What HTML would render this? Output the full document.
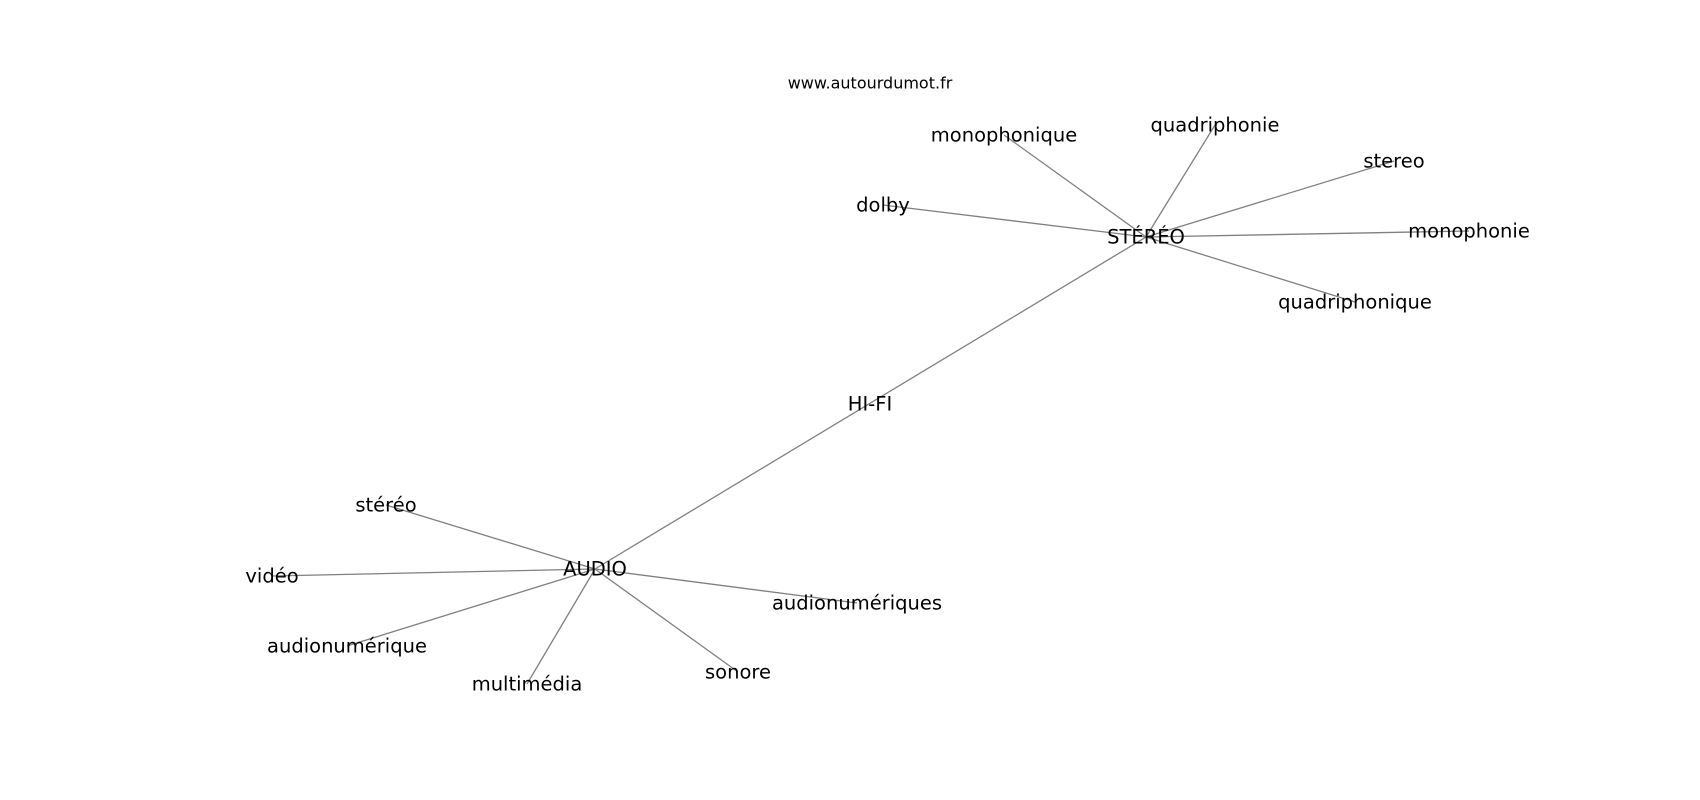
<!DOCTYPE html>
<html><head><meta charset="utf-8"><style>
html,body{margin:0;padding:0;background:#fff;}
svg{display:block;}
text{font-family:"DejaVu Sans","Liberation Sans",sans-serif;font-size:19.5px;fill:#000;text-anchor:middle;dominant-baseline:central;}
</style></head><body>
<svg width="1700" height="800" viewBox="0 0 1700 800">
<g stroke="#808080" stroke-width="1.3" fill="none">
<line x1="1146" y1="237" x2="1004" y2="135"/>
<line x1="1146" y1="237" x2="1215" y2="125"/>
<line x1="1146" y1="237" x2="1394" y2="161"/>
<line x1="1146" y1="237" x2="883" y2="205"/>
<line x1="1146" y1="237" x2="1469" y2="231"/>
<line x1="1146" y1="237" x2="1355" y2="302"/>
<line x1="1146" y1="237" x2="595" y2="569"/>
<line x1="595" y1="569" x2="386" y2="505"/>
<line x1="595" y1="569" x2="272" y2="576"/>
<line x1="595" y1="569" x2="347" y2="646"/>
<line x1="595" y1="569" x2="527" y2="684"/>
<line x1="595" y1="569" x2="738" y2="672"/>
<line x1="595" y1="569" x2="857" y2="603"/>
</g>
<text x="870" y="83" style="font-size:16px">www.autourdumot.fr</text>
<text x="1146" y="237">STÉRÉO</text>
<text x="1004" y="135">monophonique</text>
<text x="1215" y="125">quadriphonie</text>
<text x="1394" y="161">stereo</text>
<text x="883" y="205">dolby</text>
<text x="1469" y="231">monophonie</text>
<text x="1355" y="302">quadriphonique</text>
<text x="870" y="404">HI-FI</text>
<text x="595" y="569">AUDIO</text>
<text x="386" y="505">stéréo</text>
<text x="272" y="576">vidéo</text>
<text x="347" y="646">audionumérique</text>
<text x="527" y="684">multimédia</text>
<text x="738" y="672">sonore</text>
<text x="857" y="603">audionumériques</text>
</svg>
</body></html>
